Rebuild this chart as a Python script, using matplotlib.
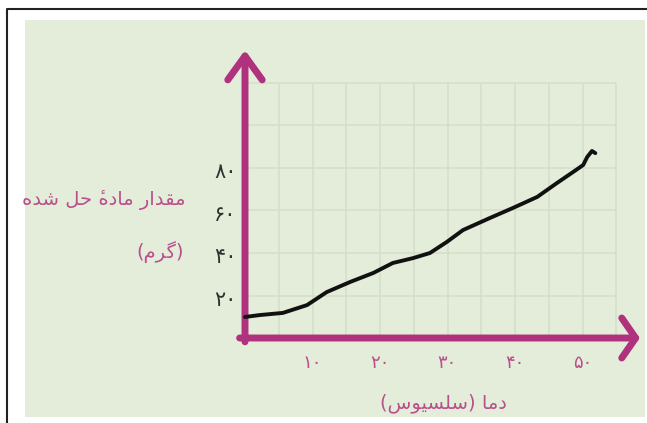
import matplotlib
matplotlib.use('Agg')
import matplotlib.pyplot as plt
from matplotlib.patches import Rectangle
from matplotlib.lines import Line2D

# ==============================================================================
# DATOS
# ==============================================================================
temperatura = [0, 2.2, 5.6, 9.2, 12.1, 15.6, 19.0, 21.9, 24.9, 27.4, 29.9,
               32.3, 36.3, 39.7, 43.3, 46.2, 48.6, 50.1, 50.7, 51.4, 51.9]
masa_disuelta = [9.9, 10.8, 11.8, 15.5, 21.6, 26.4, 30.6, 35.3, 37.6, 40.0, 45.2,
                 50.8, 56.5, 61.2, 66.4, 72.9, 78.1, 81.4, 85.2, 88.0, 87.0]

x_ticks = [10, 20, 30, 40, 50]
x_tick_labels = ['۱۰', '۲۰', '۳۰', '۴۰', '۵۰']
y_ticks = [20, 40, 60, 80]
y_tick_labels = ['۲۰', '۴۰', '۶۰', '۸۰']
x_grid = [5, 10, 15, 20, 25, 30, 35, 40, 45, 50, 55]
y_grid = [20, 40, 60, 80, 100, 120]

titulo_x = 'دما (سلسیوس)'
titulo_y1 = 'مقدار مادۀ حل شده'
titulo_y2 = '(گرم)'

# ==============================================================================
# FORMAS DE PRESENTACIÓN (matplotlib no une letras árabes)
# ==============================================================================
# (aislada, final, inicial, medial)
FORMAS = {
    'ا': ('\uFE8D', '\uFE8E', None, None),
    'د': ('\uFEA9', '\uFEAA', None, None),
    'ر': ('\uFEAD', '\uFEAE', None, None),
    'و': ('\uFEED', '\uFEEE', None, None),
    # la hamza va delante: se dibuja a la derecha del origen
    'ۀ': ('\u0654\uFEE9', '\u0654\uFEEA', None, None),
    'م': ('\uFEE1', '\uFEE2', '\uFEE3', '\uFEE4'),
    'ق': ('\uFED5', '\uFED6', '\uFED7', '\uFED8'),
    'ه': ('\uFEE9', '\uFEEA', '\uFEEB', '\uFEEC'),
    'ح': ('\uFEA1', '\uFEA2', '\uFEA3', '\uFEA4'),
    'ل': ('\uFEDD', '\uFEDE', '\uFEDF', '\uFEE0'),
    'ش': ('\uFEB5', '\uFEB6', '\uFEB7', '\uFEB8'),
    'س': ('\uFEB1', '\uFEB2', '\uFEB3', '\uFEB4'),
    'گ': ('\uFB92', '\uFB93', '\uFB94', '\uFB95'),
    'ی': ('\uFBFC', '\uFBFD', '\uFBFE', '\uFBFF'),
}
ESPEJO = {'(': ')', ')': '('}


def dar_forma(texto):
    piezas = []
    for i, c in enumerate(texto):
        if c not in FORMAS:
            piezas.append(ESPEJO.get(c, c))
            continue
        prev = texto[i - 1] if i > 0 else None
        sig = texto[i + 1] if i + 1 < len(texto) else None
        une_prev = prev in FORMAS and FORMAS[prev][2] is not None
        une_sig = sig in FORMAS and FORMAS[c][2] is not None
        aisl, fin, ini, med = FORMAS[c]
        if une_prev and une_sig:
            piezas.append(med)
        elif une_prev:
            piezas.append(fin)
        elif une_sig:
            piezas.append(ini)
        else:
            piezas.append(aisl)
    return ''.join(piezas[::-1])


# ==============================================================================
# FIGURA
# ==============================================================================
W, H = 647, 423
magenta = '#b0327e'
magenta_txt = '#b9508c'
verde = '#e3edda'
rejilla = '#d3dfcb'

fig = plt.figure(figsize=(W / 100, H / 100), dpi=100)
fig.patch.set_facecolor('white')

# panel verde y marco negro (en píxeles de la figura)
fig.patches.append(Rectangle((25 / W, 1 - 417 / H), 620 / W, 397 / H,
                             transform=fig.transFigure, facecolor=verde,
                             edgecolor='none', zorder=-2))
fig.lines.append(Line2D([7 / W, 7 / W, 1], [0, 1 - 9 / H, 1 - 9 / H],
                        transform=fig.transFigure, color='#222222', lw=1.5,
                        zorder=-1))

# ejes que cubren toda la figura: 6.75 px por grado, 2.125 px por gramo
ax = fig.add_axes([0, 0, 1, 1], zorder=1)
ax.set_xlim((0 - 245) / 6.75, (W - 245) / 6.75)
ax.set_ylim((338 - H) / 2.125, 338 / 2.125)
ax.axis('off')
ax.patch.set_alpha(0)

# rejilla
ax.vlines(x_grid, 0, max(y_grid), color=rejilla, lw=1.1, zorder=1)
ax.hlines(y_grid, 0, max(x_grid), color=rejilla, lw=1.1, zorder=1)

# curva
ax.plot(temperatura, masa_disuelta, color='#111111', lw=2.8,
        solid_capstyle='round', solid_joinstyle='round', zorder=4)

# ejes con flecha
ax.annotate('', xy=(58.5, 0), xytext=(-0.8, 0),
            arrowprops=dict(arrowstyle='->,head_length=0.5,head_width=0.72',
                            mutation_scale=20, lw=5, color=magenta,
                            shrinkA=0, shrinkB=0, capstyle='round',
                            joinstyle='round'), zorder=3)
ax.annotate('', xy=(0, 135.5), xytext=(0, -1.8),
            arrowprops=dict(arrowstyle='->,head_length=0.86,head_width=0.62',
                            mutation_scale=20, lw=5, color=magenta,
                            shrinkA=0, shrinkB=0, capstyle='round',
                            joinstyle='round'), zorder=3)

# etiquetas de los ejes
for xv, lab in zip(x_ticks, x_tick_labels):
    ax.text(xv, -11.8, lab, ha='center', va='center', fontsize=13,
            color=magenta_txt, family='DejaVu Sans')
for yv, lab in zip(y_ticks, y_tick_labels):
    ax.text(-2.9, yv - 2, lab, ha='center', va='center', fontsize=15,
            color='#2b3530', family='DejaVu Sans')

ax.text(443 / W, 1 - 403 / H, dar_forma(titulo_x), transform=fig.transFigure,
        ha='center', va='center', fontsize=14, color=magenta_txt)
ax.text(186 / W, 1 - 200 / H, dar_forma(titulo_y1), transform=fig.transFigure,
        ha='right', va='center', fontsize=14, color=magenta_txt)
ax.text(184 / W, 1 - 252 / H, dar_forma(titulo_y2), transform=fig.transFigure,
        ha='right', va='center', fontsize=14, color=magenta_txt)

fig.savefig('out.png', dpi=100, facecolor='white')
plt.close(fig)
